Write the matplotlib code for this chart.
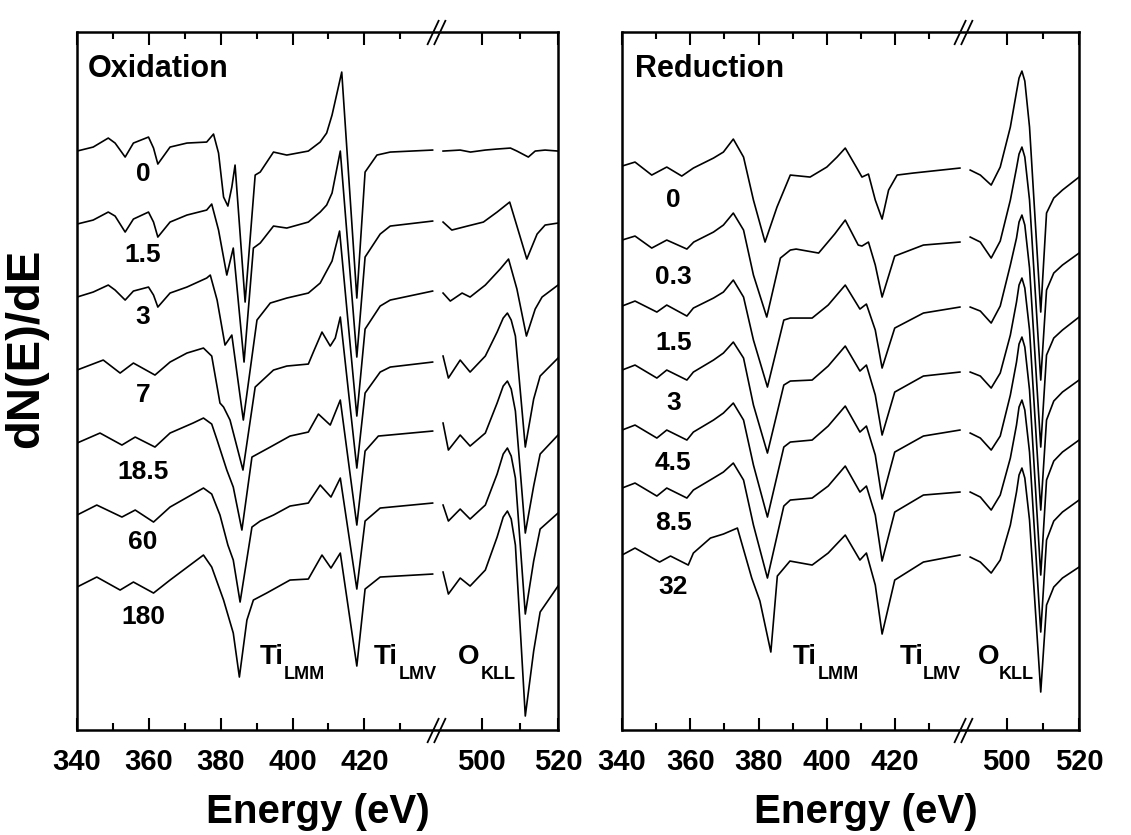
import numpy as np
import matplotlib
matplotlib.use("Agg")
import matplotlib.pyplot as plt
from matplotlib.path import Path
from matplotlib.transforms import blended_transform_factory

plt.rcParams['font.family'] = ['Liberation Sans', 'DejaVu Sans']
plt.rcParams['font.weight'] = 'bold'

# ---------------- Oxidation (exposure labels, stacking offsets in a.u.)
ox_labels = ['0', '1.5', '3', '7', '18.5', '60', '180']
ox_offsets = [579, 506, 433, 360, 287, 215, 143]

# Ti LMM / LMV window
ox_ti_e = [
    [340, 344.5, 348.7, 350.6, 353.4, 355.7, 359.9, 361.3, 362.5, 365.9, 370.6, 376.1, 378.0, 379.4, 380.8, 382.0,
     383.1, 384.0, 386.8, 389.6, 391.0, 394.7, 398.4, 404.4, 407.7, 409.5, 411.0, 413.7, 417.9, 420.2, 423.5, 427.2, 439.0],
    [340, 344.5, 348.7, 350.6, 353.4, 355.7, 359.9, 361.3, 362.5, 365.9, 370.6, 376.1, 377.5, 379.4, 381.7, 383.5,
     386.5, 389.1, 391.0, 394.7, 398.4, 404.4, 407.7, 409.5, 411.0, 413.3, 417.9, 420.2, 424.4, 427.2, 439.0],
    [340, 344.5, 348.7, 350.6, 353.4, 355.7, 359.9, 361.3, 362.5, 365.9, 370.6, 376.1, 377.1, 379.0, 381.2, 383.1,
     386.3, 390.1, 393.8, 398.4, 404.4, 407.7, 411.0, 413.1, 417.9, 420.2, 424.4, 427.2, 439.0],
    [340, 347.3, 352.0, 355.7, 361.7, 365.9, 370.6, 375.2, 377.5, 379.8, 380.8, 382.6, 386.2, 389.6, 394.7, 398.4,
     404.4, 405.8, 408.2, 410.5, 411.9, 413.3, 417.9, 420.2, 424.4, 427.2, 439.0],
    [340, 346.4, 352.5, 356.2, 361.7, 365.9, 372.3, 375.2, 377.5, 379.0, 381.7, 383.5, 385.9, 388.7, 393.8, 399.3,
     404.4, 407.2, 410.5, 413.3, 417.9, 420.2, 423.9, 439.0],
    [340, 345.5, 352.5, 356.2, 361.3, 365.9, 375.2, 377.5, 379.8, 382.0, 383.5, 385.4, 388.7, 391.0, 394.7, 399.3,
     404.4, 407.7, 410.7, 413.3, 417.9, 420.2, 424.4, 439.0],
    [340, 345.5, 352.0, 355.7, 361.3, 365.9, 375.2, 377.5, 380.8, 383.5, 385.2, 387.3, 389.1, 392.8, 399.3, 404.4,
     408.2, 410.7, 413.3, 417.9, 420.2, 424.4, 439.0],
]
ox_ti_i = [
    [0, 4, 13, 8, -6, 8, 14, 3, -13, 4, 8, 9, 17, -2, -46, -55, -36, -14, -151, -24, -21, -1, -4, 0, 9, 18, 36, 79,
     -147, -21, -4, -1, 1],
    [0, 4, 12, 8, -8, 5, 12, 2, -13, 2, 9, 14, 20, -6, -51, -24, -138, -24, -19, -2, -4, 2, 12, 19, 31, 73, -133,
     -33, -10, -2, 3],
    [0, 5, 12, 7, -3, 6, 10, 2, -10, 4, 10, 19, 22, -3, -48, -38, -123, -23, -6, -1, 4, 14, 36, 66, -119, -32, -9,
     -3, 6],
    [0, 10, -3, 7, -5, 8, 17, 22, 14, -33, -37, -50, -100, -17, 0, 4, 6, 18, 38, 24, 32, 53, -98, -23, -2, 3, 8],
    [0, 10, -2, 6, -4, 10, 20, 25, 19, 3, -27, -44, -87, -14, -4, 7, 11, 29, 18, 43, -82, -8, 7, 12],
    [0, 10, -2, 5, -7, 8, 27, 21, 0, -30, -45, -87, -12, -6, 0, 9, 12, 30, 18, 37, -74, -6, 7, 12],
    [0, 10, -3, 5, -6, 7, 32, 20, -13, -46, -90, -33, -13, -6, 7, 8, 32, 19, 34, -79, -2, 10, 13],
]

# O KLL window
ox_o_late = [489.8, 491.2, 494.3, 496.9, 500.9, 504.0, 505.6, 506.7, 507.7, 508.8, 511.4, 513.6, 515.3, 520.0]
ox_o_e = [
    [489.8, 494.3, 497.0, 500.9, 503.9, 507.5, 509.2, 512.2, 514.0, 516.6, 520.0],
    [489.8, 492.1, 496.2, 500.4, 504.0, 507.3, 509.2, 511.8, 514.5, 516.6, 520.0],
    [489.8, 491.7, 494.8, 496.9, 500.9, 504.8, 507.0, 509.2, 511.7, 514.0, 515.8, 520.0],
    ox_o_late, ox_o_late, ox_o_late, ox_o_late,
]
ox_o_i = [
    [0, 1, -1, 1, 2, 3, 0, -6, 0, 1, 0],
    [2, -6, -2, 2, 12, 22, -2, -35, -10, -1, 1],
    [4, -4, 4, 0, 12, 28, 38, 8, -39, -12, 0, 12],
    [14, -8, 10, -2, 14, 38, 52, 57, 50, 34, -77, -29, -6, 12],
    [20, -7, 8, -3, 10, 40, 57, 62, 54, 32, -90, -43, -11, 8],
    [10, -6, 6, -4, 10, 41, 61, 67, 59, 37, -99, -46, -14, 2],
    [15, -7, 9, 1, 17, 50, 70, 76, 68, 42, -129, -64, -25, 1],
]

# ---------------- Reduction
red_labels = ['0', '0.3', '1.5', '3', '4.5', '8.5', '32']
red_offsets = [564, 490, 424, 360, 300, 242, 175]

red_ti_shared = [340, 343.8, 350.2, 353.1, 359.0, 360.9, 366.8, 369.7, 372.6, 375.6, 378.5, 382.6, 387.4, 389.3,
                 395.7, 400.4, 405.4, 409.7, 411.6, 414.2, 416.2, 419.9, 428.3, 439.0]
red_ti_e = [
    [340, 343.8, 348.7, 353.1, 357.5, 360.9, 366.8, 369.7, 372.6, 375.6, 378.5, 381.9, 385.4, 389.3, 395.1, 400.0,
     403.0, 405.4, 408.8, 410.3, 412.2, 414.2, 416.2, 418.1, 420.6, 425.3, 439.0],
    [340, 343.8, 348.7, 353.1, 359.0, 361.0, 366.8, 369.7, 372.6, 375.6, 378.5, 382.4, 386.4, 389.3, 391.0, 397.6,
     402.3, 405.4, 409.2, 410.3, 412.2, 414.2, 416.2, 419.9, 428.3, 439.0],
    red_ti_shared, red_ti_shared, red_ti_shared, red_ti_shared,
    [340, 343.8, 351.0, 354.2, 359.4, 360.9, 365.9, 369.7, 373.8, 378.0, 380.4, 383.6, 385.5, 389.2, 395.7, 400.4,
     405.4, 409.7, 411.6, 414.2, 416.2, 419.9, 428.3, 439.0],
]
red_ti_i = [
    [0, 4, -9, -1, -10, -2, 8, 14, 27, 9, -34, -76, -41, -9, -11, -1, 9, 18, -2, -11, -8, -34, -53, -24, -9, -7, -2],
    [0, 4, -8, 0, -9, -2, 8, 15, 27, 10, -35, -77, -18, -10, -9, -13, 6, 20, -5, -6, -2, -25, -57, -16, -5, -2],
    [0, 5, -6, 1, -10, -2, 8, 14, 26, 9, -34, -81, -14, -12, -12, 1, 21, -3, 2, -24, -62, -22, -7, -1],
    [0, 5, -8, 0, -10, -2, 10, 17, 28, 12, -35, -83, -15, -11, -10, 4, 24, -1, 5, -25, -65, -22, -6, -2],
    [0, 5, -8, 0, -10, -2, 10, 17, 27, 10, -35, -87, -17, -12, -10, 4, 24, -2, 4, -25, -69, -22, -6, 0],
    [0, 5, -8, 0, -10, -2, 10, 16, 25, 8, -37, -90, -18, -12, -10, 2, 22, -4, 2, -27, -73, -24, -7, -4],
    [0, 7, -7, -1, -10, 2, 17, 21, 27, -23, -46, -97, -21, -6, -10, 2, 20, -5, 2, -30, -79, -25, -7, 0],
]

red_o_e = [489.9, 492.7, 495.7, 498.2, 501.0, 502.7, 503.4, 504.2, 505.0, 506.3, 509.4, 511.0, 513.0, 515.4, 520.0]
red_o_i = [
    [-4, -9, -19, -1, 39, 74, 88, 95, 85, 39, -146, -47, -32, -24, -11],
    [3, -2, -18, -1, 40, 72, 86, 93, 83, 40, -140, -50, -33, -25, -13],
    [-1, -5, -17, 0, 41, 68, 84, 91, 81, 38, -141, -49, -32, -24, -11],
    [-2, -6, -18, -3, 35, 68, 85, 92, 82, 40, -140, -50, -31, -22, -10],
    [-3, -8, -20, -6, 35, 68, 86, 93, 83, 40, -145, -50, -31, -22, -10],
    [-4, -9, -22, -7, 30, 63, 81, 88, 78, 36, -144, -52, -33, -24, -12],
    [-2, -7, -18, -5, 30, 63, 80, 87, 77, 35, -137, -50, -32, -23, -12],
]

# ---------------- broken energy axis (gap between 440 and 488 eV)
BREAK_LO, BREAK_HI, STRETCH = 440.0, 488.0, 1.06


def fwd(x):
    x = np.asarray(x, dtype=float)
    return np.where(x <= BREAK_LO, x,
                    np.where(x >= BREAK_HI, BREAK_LO + (x - BREAK_HI) * STRETCH, BREAK_LO))


def inv(t):
    t = np.asarray(t, dtype=float)
    return np.where(t <= BREAK_LO, t, BREAK_HI + (t - BREAK_LO) / STRETCH)


slash = Path([(-0.74, -1), (0.2, 1), (-0.2, -1), (0.74, 1)],
             [Path.MOVETO, Path.LINETO, Path.MOVETO, Path.LINETO])


def panel(ax, title, labels, offsets, ti_e, ti_i, o_e, o_i, lab_x, lab_y, peak_x):
    for k in range(len(labels)):
        ax.plot(ti_e[k], np.array(ti_i[k]) + offsets[k], color='k', lw=1.2)
        oe = o_e[k] if isinstance(o_e[0], list) else o_e
        ax.plot(oe, np.array(o_i[k]) + offsets[k], color='k', lw=1.2)
        ax.text(lab_x, lab_y[k], labels[k], ha='center', va='center', fontsize=19, weight='bold')

    ax.set_xscale('function', functions=(fwd, inv))
    ax.set_xlim(340, 520)
    ax.set_ylim(0, 698)
    ax.set_xticks([340, 360, 380, 400, 420, 500, 520])
    ax.set_xticks([350, 370, 390, 410, 430, 510], minor=True)
    ax.set_yticks([])
    ax.tick_params(axis='x', which='both', direction='in', top=True, bottom=True,
                   labelsize=21, pad=13, width=1.5)
    ax.tick_params(axis='x', which='major', length=9)
    ax.tick_params(axis='x', which='minor', length=5)
    for lab in ax.get_xticklabels():
        lab.set_fontweight('bold')
    for sp in ax.spines.values():
        sp.set_linewidth(1.8)

    ax.text(title[1], 661, title[0], ha='left', va='center', fontsize=22, weight='bold')

    # peak assignments
    names = [('Ti', 'LMM'), ('Ti', 'LMV'), ('O', 'KLL')]
    for (big, sub), (x0, x1) in zip(names, peak_x):
        ax.text(x0, 73, big, ha='left', va='center', fontsize=20, weight='bold')
        ax.text(x1, 56, sub, ha='left', va='center', fontsize=13, weight='bold')

    # axis-break marks on top and bottom spines
    trans = blended_transform_factory(ax.transData, ax.transAxes)
    ax.plot([BREAK_LO, BREAK_LO], [0, 1], transform=trans, ls='none', marker=slash, ms=18,
            mfc='none', mec='k', mew=1.3, clip_on=False)


fig = plt.figure(figsize=(11.31, 8.35), dpi=100)
ax1 = fig.add_axes([0.0681, 0.1257, 0.4253, 0.8359])
ax2 = fig.add_axes([0.5500, 0.1257, 0.4041, 0.8359])

panel(ax1, ('Oxidation', 343.1), ox_labels, ox_offsets, ox_ti_e, ox_ti_i, ox_o_e, ox_o_i,
      358.4, [556, 475, 413, 335, 258, 188, 113],
      [(391.0, 397.6), (422.5, 429.6), (493.8, 499.8)])
panel(ax2, ('Reduction', 343.8), red_labels, red_offsets, red_ti_e, red_ti_i, red_o_e, red_o_i,
      355.0, [530, 453, 387, 327, 267, 207, 143],
      [(390.1, 397.4), (421.5, 428.2), (491.9, 497.9)])

fig.text(318 / 1131, 1 - 812 / 835, 'Energy (eV)', ha='center', va='center', fontsize=29, weight='bold')
fig.text(866 / 1131, 1 - 812 / 835, 'Energy (eV)', ha='center', va='center', fontsize=29, weight='bold')
fig.text(26 / 1131, 1 - 348 / 835, 'dN(E)/dE', ha='center', va='center', rotation=90,
         fontsize=34, weight='bold')

fig.savefig('out.png', dpi=100)
